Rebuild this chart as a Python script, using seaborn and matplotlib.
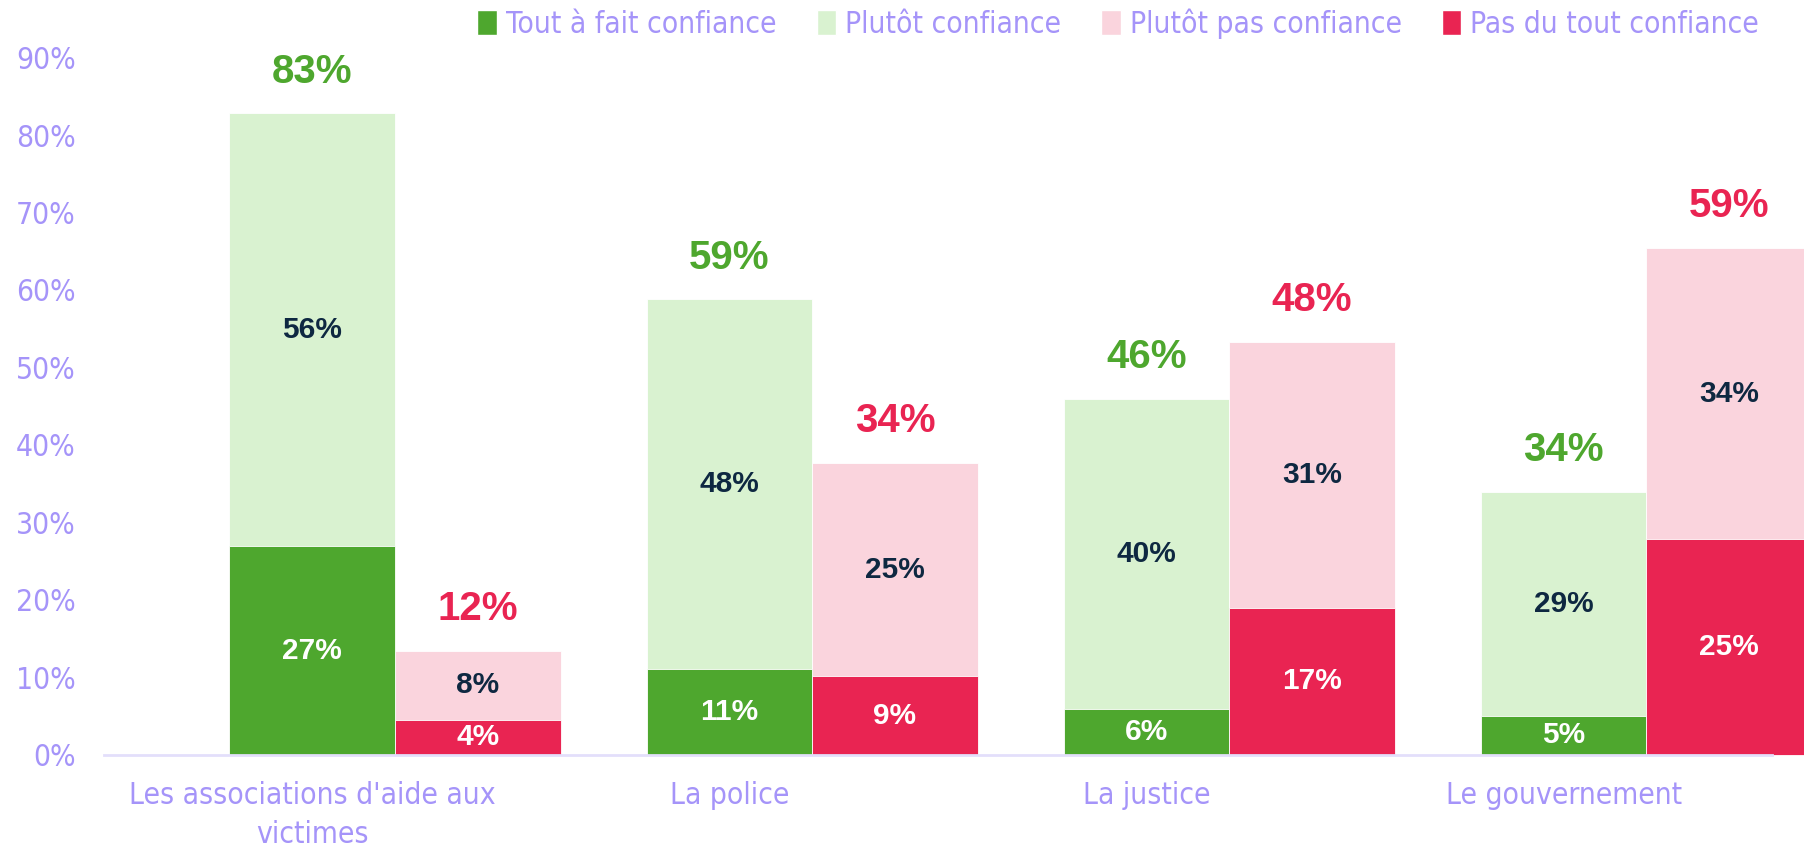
import pandas as pd
import numpy as np
import seaborn as sns
import matplotlib.pyplot as plt
from matplotlib.patches import Patch
from matplotlib import font_manager

# Data
categories = ["Les associations d'aide aux\nvictimes", "La police", "La justice", "Le gouvernement"]
series_names = ["Tout à fait confiance", "Plutôt confiance", "Plutôt pas confiance", "Pas du tout confiance"]

# bar heights (as drawn)
tout_a_fait = [26.9, 11.0, 5.9, 5.05]
plutot = [55.9, 47.8, 40.0, 28.85]
plutot_pas = [8.9, 27.6, 34.4, 37.6]
pas_du_tout = [4.5, 10.1, 18.9, 27.8]

# labels shown on the chart
lab_tout_a_fait = ["27%", "11%", "6%", "5%"]
lab_plutot = ["56%", "48%", "40%", "29%"]
lab_plutot_pas = ["8%", "25%", "31%", "34%"]
lab_pas_du_tout = ["4%", "9%", "17%", "25%"]
lab_confiance = ["83%", "59%", "46%", "34%"]
lab_defiance = ["12%", "34%", "48%", "59%"]

colours = {'Tout à fait confiance': '#4EA72E', 'Plutôt confiance': '#D9F2D0',
           'Plutôt pas confiance': '#FAD4DD', 'Pas du tout confiance': '#E92452'}
lavender = '#A594F9'

sns.set_style('white')

# pick a narrow font for the axis / legend text if one is installed
installed = {(f.name, f.stretch) for f in font_manager.fontManager.ttflist}
names = {n for n, _ in installed}
narrow = dict(fontfamily=['DejaVu Sans'])
txt_size = 19.5
if 'Liberation Sans Narrow' in names:
    narrow = dict(fontfamily=['Liberation Sans Narrow', 'DejaVu Sans'])
    txt_size = 22.5
elif ('DejaVu Sans', 'condensed') in installed:
    narrow = dict(fontfamily=['DejaVu Sans'], fontstretch='condensed')
    txt_size = 21.5
plt.rcParams['font.family'] = narrow['fontfamily']
stretch = narrow.get('fontstretch', 'normal')

# Build two layers: full stacked height (back) and bottom segment (front)
back = pd.DataFrame({
    'cat': categories * 2,
    'grp': ['conf'] * 4 + ['def'] * 4,
    'val': list(np.add(tout_a_fait, plutot)) + list(np.add(pas_du_tout, plutot_pas)),
})
front = pd.DataFrame({
    'cat': categories * 2,
    'grp': ['conf'] * 4 + ['def'] * 4,
    'val': tout_a_fait + pas_du_tout,
})

fig = plt.figure(figsize=(18.04, 8.47), dpi=100)
ax = fig.add_axes([0.0574, 0.109, 0.925, 0.823])

sns.barplot(data=back, x='cat', y='val', hue='grp', dodge=True, width=0.794, ax=ax,
            palette={'conf': colours['Plutôt confiance'], 'def': colours['Plutôt pas confiance']},
            saturation=1, linewidth=0, legend=False, errorbar=None)
sns.barplot(data=front, x='cat', y='val', hue='grp', dodge=True, width=0.794, ax=ax,
            palette={'conf': colours['Tout à fait confiance'], 'def': colours['Pas du tout confiance']},
            saturation=1, linewidth=0, legend=False, errorbar=None)

for c in ax.containers:
    for p in c:
        p.set_clip_on(False)
        p.set_edgecolor('white')
        p.set_linewidth(0.6)

back_conf, back_def, front_conf, front_def = ax.containers[:4]

inner_font = dict(fontfamily=['Liberation Sans', 'DejaVu Sans'], fontweight='bold', fontsize=21.5,
                  ha='center', va='center')
total_font = dict(fontfamily=['Liberation Sans', 'DejaVu Sans'], fontweight='bold', fontsize=29,
                  ha='center', va='center')

for i in range(4):
    # confidence side
    pb = back_conf[i]
    xc = pb.get_x() + pb.get_width() / 2
    ax.text(xc, tout_a_fait[i] / 2, lab_tout_a_fait[i], color='white', **inner_font)
    ax.text(xc, tout_a_fait[i] + plutot[i] / 2, lab_plutot[i], color='#0E2841', **inner_font)
    ax.annotate(lab_confiance[i], (xc, pb.get_height()), xytext=(0, 30),
                textcoords='offset points', color=colours['Tout à fait confiance'],
                annotation_clip=False, **total_font)
    # defiance side
    pb = back_def[i]
    xc = pb.get_x() + pb.get_width() / 2
    ax.text(xc, pas_du_tout[i] / 2, lab_pas_du_tout[i], color='white', clip_on=False, **inner_font)
    ax.text(xc, pas_du_tout[i] + plutot_pas[i] / 2, lab_plutot_pas[i], color='#0E2841',
            clip_on=False, **inner_font)
    ax.annotate(lab_defiance[i], (xc, pb.get_height()), xytext=(0, 30),
                textcoords='offset points', color=colours['Pas du tout confiance'],
                annotation_clip=False, **total_font)

# category labels sit under the green bars
green_centres = [p.get_x() + p.get_width() / 2 for p in back_conf]
ax.set_xticks(green_centres)
ax.set_xticklabels(categories, fontsize=txt_size, color=lavender, linespacing=1.45,
                   fontstretch=stretch)
ax.set_xlim(green_centres[0] - 0.5, green_centres[-1] + 0.5)
ax.set_ylim(0, 90)
ax.set_yticks(np.arange(0, 91, 10))
ax.set_yticklabels([f'{t}%' for t in range(0, 91, 10)], fontsize=txt_size, color=lavender,
                   fontstretch=stretch)
ax.tick_params(axis='x', length=0, pad=19)
ax.tick_params(axis='y', length=0, pad=20)
ax.set_xlabel('')
ax.set_ylabel('')

sns.despine(left=True)
ax.spines['bottom'].set_color('#E3DFFB')
ax.spines['bottom'].set_linewidth(2)

handles = [Patch(facecolor=colours[s], label=s) for s in series_names]
leg = fig.legend(handles=handles, loc='upper right', bbox_to_anchor=(0.99, 1.022), ncol=4,
                 frameon=False, fontsize=txt_size, handlelength=0.65, handleheight=0.9,
                 handletextpad=0.3, columnspacing=1.35)
for t in leg.get_texts():
    t.set_color(lavender)
    t.set_fontstretch(stretch)

fig.savefig('out.png', dpi=100)
